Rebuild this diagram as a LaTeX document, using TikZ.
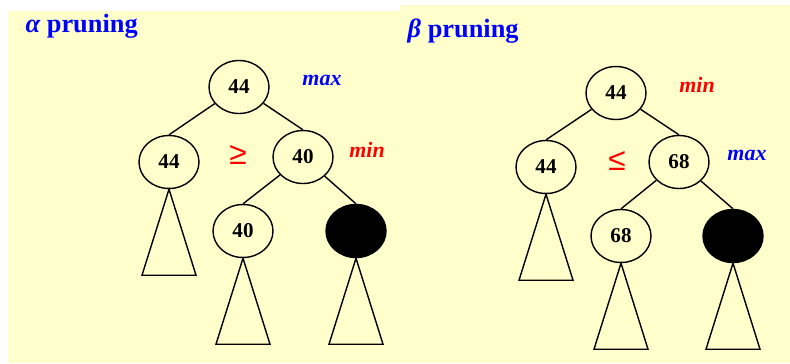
\documentclass[tikz,border=0pt]{standalone}
\usepackage{fontspec}
\setmainfont{Liberation Serif}
\newfontfamily\symfont{Liberation Sans}
\usetikzlibrary{shapes.geometric}
\definecolor{paper}{RGB}{255,255,204}

\begin{document}
\begin{tikzpicture}[x=0.02cm, y=-0.02cm, line width=0.8pt,
  every node/.style={font=\fontsize{12}{14}\selectfont\bfseries},
  val/.style={ellipse, draw, minimum width=1.2cm, minimum height=1.06cm, inner sep=0pt},
  cut/.style={val, fill=black},
  tag/.style={font=\fontsize{12.5}{15}\selectfont\bfseries\itshape},
  cmp/.style={text=red, font=\fontsize{18}{20}\selectfont\symfont},
  title/.style={anchor=base west, text=blue, inner sep=0pt,
    font=\fontsize{15}{18}\selectfont\bfseries}]

  \useasboundingbox (0,0) rectangle (790,363);
  \fill[paper] (8,11) rectangle (400,363);
  \fill[paper] (400,5) rectangle (790,363);

  % alpha pruning
  \node[title] (atitle) at (25,32) {\itshape α\upshape{} pruning};
  \node[val] (A) at (239,87) {44};
  \node[tag, text=blue] (Amax) at (322,80) {max};
  \node[val] (A1) at (169,162) {44};
  \node[cmp] (Age) at (238,155) {≥};
  \node[val] (A2) at (303,157) {40};
  \node[tag, text=red] (Amin) at (367,150) {min};
  \node[val] (A21) at (243,231) {40};
  \node[cut] (A22) at (356,231) {};

  \draw (A) -- (A1.north);
  \draw (A) -- (A2.north);
  \draw (A2) -- (A21.north);
  \draw (A2) -- (A22.north);

  % beta pruning
  \node[title] (btitle) at (407,37) {\itshape β\upshape{} pruning};
  \node[val] (B) at (616,93) {44};
  \node[tag, text=red] (Bmin) at (697,85) {min};
  \node[val] (B1) at (546,167) {44};
  \node[cmp] (Ble) at (617,161) {≤};
  \node[val] (B2) at (679,162) {68};
  \node[tag, text=blue] (Bmax) at (747,155) {max};
  \node[val] (B21) at (621,236) {68};
  \node[cut] (B22) at (733,236) {};

  \draw (B) -- (B1.north);
  \draw (B) -- (B2.north);
  \draw (B2) -- (B21.north);
  \draw (B2) -- (B22.north);

  % subtrees
  \foreach \n in {A1,A21,A22,B1,B21,B22}
    \draw (\n.south) -- ++(-27,86) -- ++(54,0) -- cycle;
\end{tikzpicture}
\end{document}
